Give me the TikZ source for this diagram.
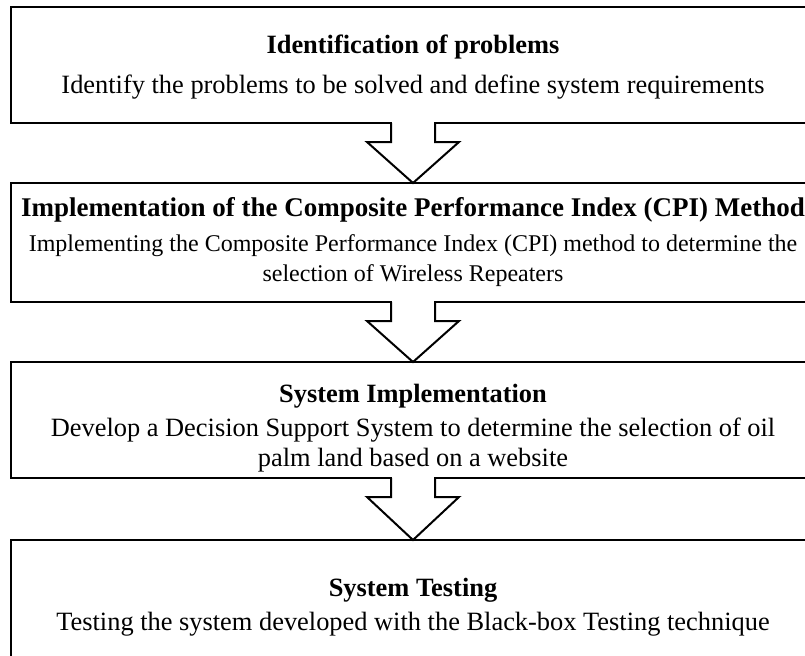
\documentclass[tikz,border=0pt]{standalone}
\usepackage{fontspec}
\setmainfont{Liberation Serif}
\usetikzlibrary{calc}
\begin{document}
\begin{tikzpicture}[x=0.5pt,y=-0.5pt,
  box/.style={draw, line width=1pt, outer sep=0pt, inner sep=0pt, minimum width=402pt},
  txt/.style={inner sep=0pt, align=center, font=\fontsize{13.2}{14.8}\selectfont},
  small/.style={font=\fontsize{12}{14.8}\selectfont},
  blockarrow/.style={draw, line width=1pt, line join=miter}]
\useasboundingbox (0,0) rectangle (805,655);
\clip (0,0) rectangle (805,655);
\node[box, minimum height=58pt] (b1) at (413,65) {};
\node[box, minimum height=59.5pt] (b2) at (413,242.5) {};
\node[box, minimum height=58pt] (b3) at (413,420) {};
\node[box, minimum height=65pt] (b4) at (413,605) {};
\node[txt] (t1) at ($(b1.center)+(0,2)$)
  {\textbf{Identification of problems}\\[5pt]Identify the problems to be solved and define system requirements};
\node[txt, font=\fontsize{13.5}{14.8}\selectfont] (t2a) at ($(b2.center)+(0,-33)$)
  {\textbf{Implementation of the Composite Performance Index (CPI) Method}};
\node[txt, small] (t2b) at ($(b2.center)+(0,18)$)
  {Implementing the Composite Performance Index (CPI) method to determine the\\selection of Wireless Repeaters};
\node[txt] (t3) at ($(b3.center)+(0,8)$)
  {\textbf{System Implementation}\\[2.5pt]Develop a Decision Support System to determine the selection of oil\\palm land based on a website};
\node[txt] (t4) at ($(b4.center)+(0,2)$)
  {\textbf{System Testing}\\[2.5pt]Testing the system developed with the Black-box Testing technique};
\foreach \a/\b in {b1/b2, b2/b3, b3/b4}{
  \fill[white] ($(\a.south)+(-21,-2)$) rectangle ($(\a.south)+(21,2)$);
  \draw[blockarrow] ($(\a.south)+(-22,0)$) -- ($(\a.south)+(-22,19)$) -- ($(\a.south)+(-46,19)$)
    -- (\b.north) -- ($(\a.south)+(46,19)$) -- ($(\a.south)+(22,19)$) -- ($(\a.south)+(22,0)$);
}
\end{tikzpicture}
\end{document}
